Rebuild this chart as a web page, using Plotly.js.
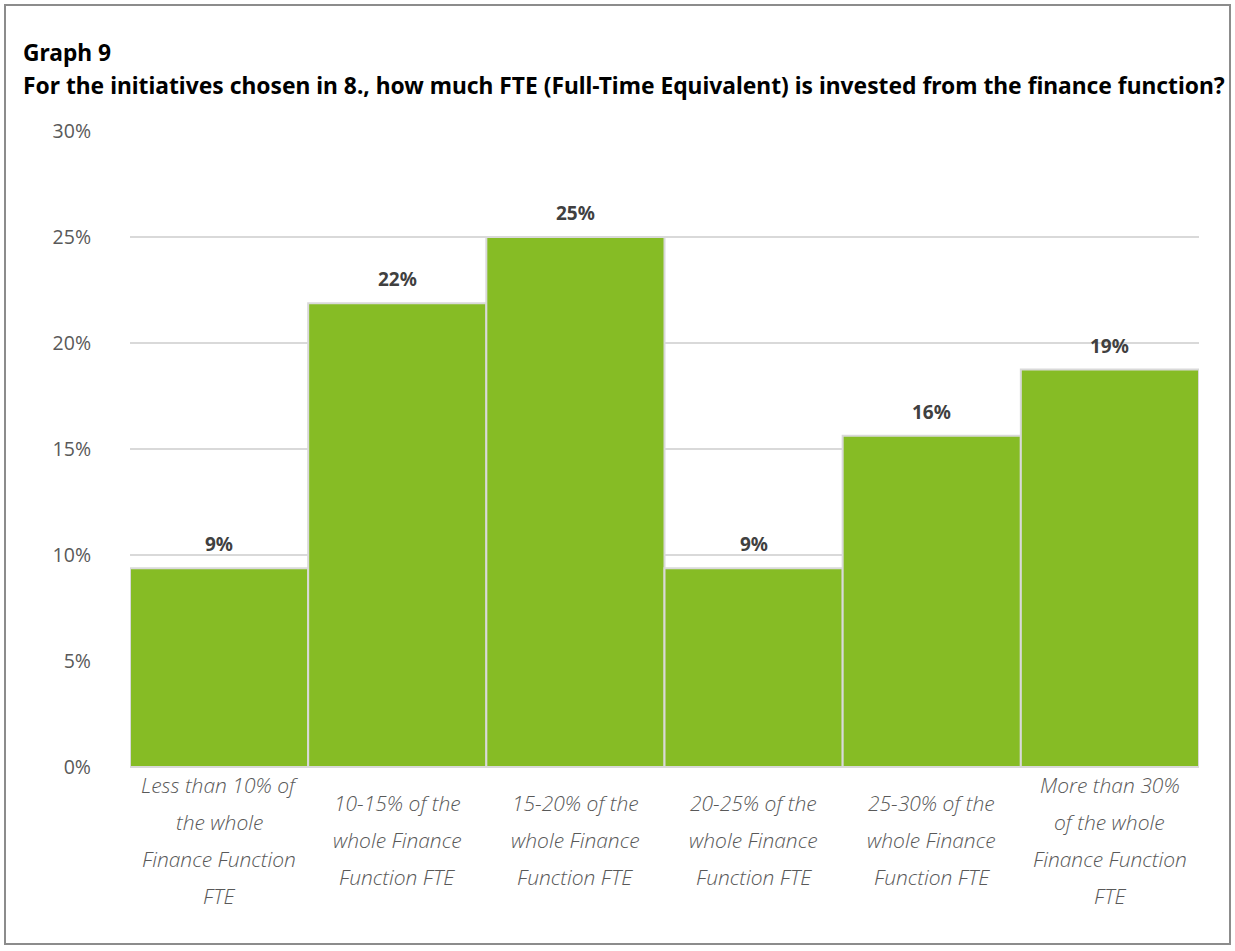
<!DOCTYPE html>
<html>
<head>
<meta charset="utf-8">
<script src="https://cdn.plot.ly/plotly-3.0.1.min.js"></script>
<style>
  html, body { margin: 0; padding: 0; background: #fff; }
  #frame { position: absolute; left: 4px; top: 4px; width: 1227px; height: 941px; border: 2px solid #8c8c8c; box-sizing: border-box; }
  #chart { position: absolute; left: 0; top: 0; width: 1235px; height: 951px; }
</style>
</head>
<body>
<div id="chart"></div>
<div id="frame"></div>
<script>
// Share of respondents per FTE band (32 responses)
const categories = [
  "Less than 10% of|the whole|Finance Function|FTE",
  "10-15% of the|whole Finance|Function FTE",
  "15-20% of the|whole Finance|Function FTE",
  "20-25% of the|whole Finance|Function FTE",
  "25-30% of the|whole Finance|Function FTE",
  "More than 30%|of the whole|Finance Function|FTE"
];
const shares = [3/32, 7/32, 8/32, 3/32, 5/32, 6/32];
const yTicks = [0, 0.05, 0.10, 0.15, 0.20, 0.25, 0.30];

const titleLine1 = "Graph 9";
const titleLine2 = "For the initiatives chosen in 8., how much FTE (Full-Time Equivalent) is invested from the finance function?";

const GREEN = "#86bc25";
const GRID = "#d9d9d9";
const TEXT = "#595959";

const bar = {
  type: "bar",
  x: categories,
  y: shares,
  marker: { color: GREEN, line: { color: GRID, width: 2 } },
  hoverinfo: "skip"
};

const annotations = [];

// value labels above each bar
categories.forEach((c, i) => {
  annotations.push({
    x: c, y: shares[i], xref: "x", yref: "y",
    text: Math.round(shares[i] * 100) + "%",
    showarrow: false, yanchor: "bottom", yshift: 9,
    font: { family: "Noto Sans", size: 19, color: "#404040", weight: 700 }
  });
});

// multi-line italic category labels, centred vertically under the axis
const LINE = 37;
categories.forEach((c) => {
  const lines = c.split("|");
  const n = lines.length;
  lines.forEach((ln, j) => {
    annotations.push({
      x: c, y: 0, xref: "x", yref: "paper",
      text: ln, showarrow: false, yanchor: "middle",
      yshift: -(73 + (j - (n - 1) / 2) * LINE),
      font: { family: "Open Sans", size: 21, color: TEXT, style: "italic", weight: 300 }
    });
  });
});

// two-line heading
annotations.push({
  text: "<b>" + titleLine1 + "</b>", xref: "paper", yref: "paper",
  x: 0, y: 1, xanchor: "left", yanchor: "middle", xshift: -109, yshift: 79,
  showarrow: false, font: { family: "Noto Sans", size: 22.8, color: "#000" }
});
annotations.push({
  text: "<b>" + titleLine2 + "</b>", xref: "paper", yref: "paper",
  x: 0, y: 1, xanchor: "left", yanchor: "middle", xshift: -109, yshift: 46,
  showarrow: false, font: { family: "Noto Sans", size: 22.8, color: "#000" }
});

const layout = {
  width: 1235, height: 951,
  margin: { l: 130, r: 36, t: 131, b: 184 },
  paper_bgcolor: "#fff", plot_bgcolor: "#fff",
  showlegend: false,
  bargap: 0,
  xaxis: {
    type: "category", showticklabels: false, showgrid: false,
    zeroline: false, showline: false, fixedrange: true
  },
  yaxis: {
    range: [0, 0.3], tickvals: yTicks, tickformat: ".0%",
    showgrid: true, gridcolor: GRID, gridwidth: 1.5,
    zeroline: true, zerolinecolor: GRID, zerolinewidth: 1.5,
    showline: false, ticks: "", ticklabelstandoff: 38,
    tickfont: { family: "Open Sans", size: 19.5, color: TEXT },
    fixedrange: true
  },
  annotations: annotations
};

Plotly.newPlot("chart", [bar], layout, { displayModeBar: false, staticPlot: true });
</script>
</body>
</html>
